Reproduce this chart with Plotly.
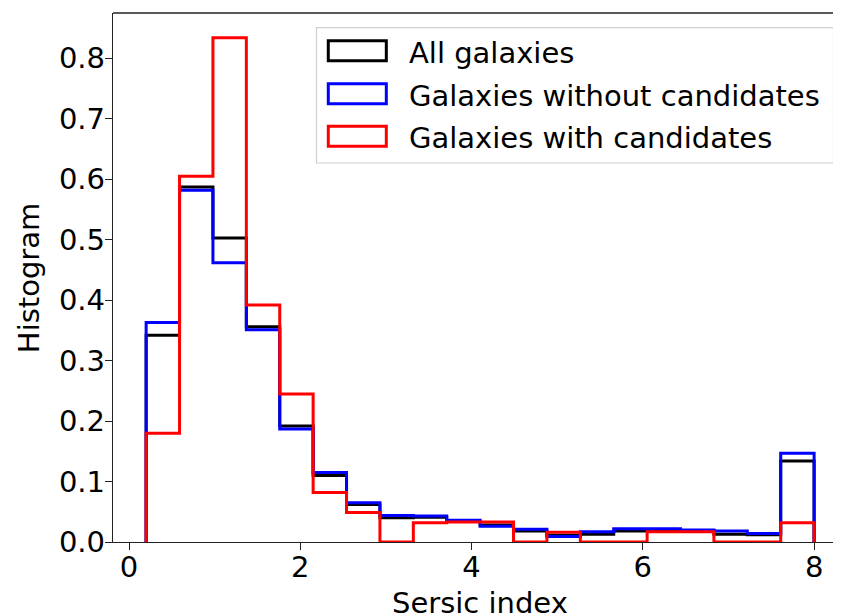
import plotly.graph_objects as go

# ---- data ----
bin_edges = [round(0.2 + 0.39 * k, 2) for k in range(21)]
all_galaxies = [0.342, 0.587, 0.503, 0.356, 0.192, 0.110, 0.062, 0.040, 0.041, 0.034,
                0.028, 0.018, 0.011, 0.013, 0.018, 0.020, 0.019, 0.013, 0.012, 0.134]
without_candidates = [0.363, 0.582, 0.462, 0.351, 0.187, 0.115, 0.065, 0.044, 0.043, 0.036,
                      0.026, 0.021, 0.009, 0.017, 0.022, 0.022, 0.020, 0.018, 0.014, 0.147]
with_candidates = [0.180, 0.605, 0.834, 0.392, 0.245, 0.082, 0.049, 0.0, 0.032, 0.033,
                   0.033, 0.0, 0.016, 0.0, 0.0, 0.017, 0.017, 0.0, 0.0, 0.032]
series_names = ["All galaxies", "Galaxies without candidates", "Galaxies with candidates"]
series_colors = ["#000000", "#0000ff", "#ff0000"]
x_ticks = [0, 2, 4, 6, 8]
y_ticks = [0.0, 0.1, 0.2, 0.3, 0.4, 0.5, 0.6, 0.7, 0.8]
x_title = "Sersic index"
y_title = "Histogram"

# ---- layout geometry (page pixels; the page body adds an 8 px offset) ----
OFF = 8
W, H = 841 - OFF, 616 - OFF
L, T, B, R = 113.3 - OFF, 13 - OFF, 542 - OFF, 841 - OFF
FONT = "DejaVu Sans"
FS = 29


def px2x(px):
    return (px - OFF - L) / (R - L)


def py2y(py):
    return (B - (py - OFF)) / (B - T)


def step_xy(edges, vals):
    xs = [edges[0]] + list(edges[:-1]) + [edges[-1], edges[-1]]
    ys = [0.0] + list(vals) + [vals[-1], 0.0]
    return xs, ys


fig = go.Figure()
for name, vals, col in zip(series_names, [all_galaxies, without_candidates, with_candidates], series_colors):
    xs, ys = step_xy(bin_edges, vals)
    fig.add_trace(go.Scatter(x=xs, y=ys, mode="lines", name=name,
                             line=dict(color=col, width=3, shape="hv"),
                             showlegend=False, hoverinfo="skip"))

# manual matplotlib-style legend
shapes = []
annotations = []
shapes.append(dict(type="rect", xref="paper", yref="paper",
                   x0=px2x(316.7), x1=px2x(833.5), y0=py2y(163), y1=py2y(27.7),
                   line=dict(color="#d0d0d0", width=1.2),
                   fillcolor="rgba(255,255,255,0.8)", layer="above"))
row_centers = [50.8, 93.7, 136.2]
for name, col, cy in zip(series_names, series_colors, row_centers):
    shapes.append(dict(type="rect", xref="paper", yref="paper",
                       x0=px2x(328.5), x1=px2x(386.5), y0=py2y(cy + 10), y1=py2y(cy - 10),
                       line=dict(color=col, width=3), fillcolor="rgba(0,0,0,0)", layer="above"))
    annotations.append(dict(text=name, xref="paper", yref="paper", x=px2x(407), y=py2y(cy + 2),
                            xanchor="left", yanchor="middle", showarrow=False,
                            font=dict(family=FONT, size=FS, color="black")))

# top spine
shapes.append(dict(type="line", xref="paper", yref="paper", x0=0, x1=1, y0=1, y1=1,
                   line=dict(color="#222222", width=1.3)))

annotations.append(dict(text=x_title, xref="paper", yref="paper", x=px2x(480.5), y=py2y(603),
                        xanchor="center", yanchor="middle", showarrow=False,
                        font=dict(family=FONT, size=FS, color="black")))
annotations.append(dict(text=y_title, xref="paper", yref="paper", x=px2x(29), y=py2y(278.5),
                        xanchor="center", yanchor="middle", showarrow=False, textangle=-90,
                        font=dict(family=FONT, size=FS, color="black")))

fig.update_layout(
    width=W, height=H,
    margin=dict(l=L, r=W - R, t=T, b=H - B, pad=0),
    paper_bgcolor="white", plot_bgcolor="white",
    shapes=shapes, annotations=annotations,
    showlegend=False,
    font=dict(family=FONT, size=FS, color="black"),
)
fig.update_xaxes(range=[-0.187, 8.314], tickvals=x_ticks, ticktext=[str(v) for v in x_ticks],
                 showgrid=False, zeroline=False, showline=True, linecolor="#222222", linewidth=1.3,
                 ticks="outside", ticklen=7, tickwidth=1.3, tickcolor="#222222",
                 ticklabelstandoff=-8,
                 tickfont=dict(family=FONT, size=FS, color="black"), automargin=False)
fig.update_yaxes(range=[0, 0.875], tickvals=y_ticks, ticktext=[f"{v:.1f}" for v in y_ticks],
                 showgrid=False, zeroline=False, showline=True, linecolor="#222222", linewidth=1.3,
                 ticks="outside", ticklen=7, tickwidth=1.3, tickcolor="#222222",
                 ticklabelstandoff=-6,
                 tickfont=dict(family=FONT, size=FS, color="black"), automargin=False)

fig.write_html("out.html")
